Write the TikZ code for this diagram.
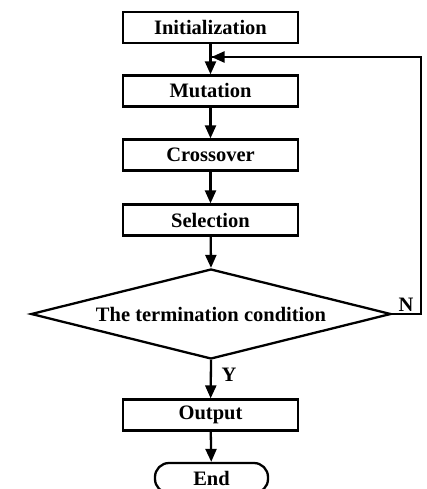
\documentclass[tikz,border=0pt]{standalone}
\usepackage{fontspec}
\setmainfont{Liberation Serif}
\usetikzlibrary{shapes.geometric,arrows.meta}
\begin{document}
\begin{tikzpicture}[x=1pt,y=-1pt,
  lbl/.style={font=\fontsize{20.5}{24}\selectfont\bfseries},
  box/.style={lbl, draw, line width=2.3pt, minimum width=175pt, minimum height=31pt, inner sep=0pt},
  dec/.style={lbl, draw, diamond, aspect=4, line width=2.3pt, minimum width=360pt, minimum height=90pt, inner sep=0pt},
  term/.style={lbl, draw, line width=2.3pt, rounded corners=14pt, minimum width=113pt, minimum height=30pt, inner sep=0pt},
  arr/.style={line width=2.3pt, -{Triangle[width=11pt,length=13pt]}},
  ln/.style={line width=2.3pt}]
\useasboundingbox[fill=white] (0,0) rectangle (426,489);
\node[box] (init) at (210.5,27.5) {Initialization};
\node[box] (mut) at (210.5,91) {Mutation};
\node[box] (cross) at (210.5,155) {Crossover};
\node[box] (sel) at (210.5,220) {Selection};
\node[dec] (cond) at (211,314) {The termination condition};
\node[box] (out) at (210.5,415) {Output};
\node[term] (end) at (211.5,478) {End};
\coordinate (c1) at (421,314);
\coordinate (c2) at (421,57);
\coordinate (j) at (init.south |- c2);
\draw[arr] (init) -- (mut);
\draw[arr] (mut) -- (cross);
\draw[arr] (cross) -- (sel);
\draw[arr] (sel) -- (cond.north);
\draw[arr] (cond.south) -- (out);
\draw[arr] (out) -- (end);
\draw[ln, line join=miter] (cond.east) -- (c1) -- (c2) -- (j);
\draw[arr] (c2) -- ([xshift=1pt]j);
\node[lbl] (n) at (406,305) {N};
\node[lbl] (y) at (229,375) {Y};
\end{tikzpicture}
\end{document}
